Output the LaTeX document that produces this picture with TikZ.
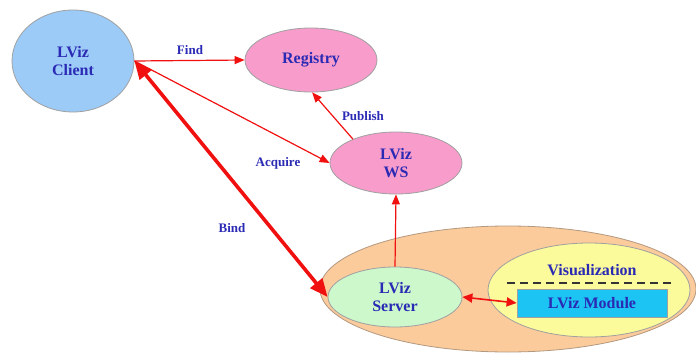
\documentclass[tikz,border=0pt]{standalone}
\usepackage{fontspec}
\setmainfont{Liberation Serif}
\usetikzlibrary{shapes.geometric,arrows.meta}
\definecolor{txt}{HTML}{2A2AB4}
\definecolor{arrred}{HTML}{F01010}
\definecolor{clientfill}{HTML}{9CCBF8}
\definecolor{pinkfill}{HTML}{F89CCC}
\definecolor{orangefill}{HTML}{FBCB9C}
\definecolor{serverfill}{HTML}{CCF8CC}
\definecolor{vizfill}{HTML}{FBFB9C}
\definecolor{modfill}{HTML}{1CC4F4}
\definecolor{edge}{HTML}{A0A0A0}
\tikzset{
  big/.style={font=\fontsize{16}{18}\selectfont\bfseries, text=txt, align=center},
  lab/.style={font=\fontsize{13}{15}\selectfont\bfseries, text=txt},
  oval/.style={ellipse, draw=edge, line width=0.8pt, inner sep=0pt, big},
  thin/.style={draw=arrred, line width=1.2pt, -{Triangle[length=10pt,width=8pt]}},
  thick/.style={draw=arrred, line width=3.6pt, {Triangle[length=18pt,width=15pt]}-{Triangle[length=18pt,width=15pt]}}
}
\begin{document}
\begin{tikzpicture}[x=1pt,y=-1pt]
\useasboundingbox (0,0) rectangle (696,353);
\node[oval, fill=orangefill, draw=edge!80!orange, minimum width=376pt, minimum height=126pt] (host) at (508,289) {};
\node[oval, fill=clientfill, minimum width=122pt, minimum height=102pt] (client) at (73,61) {LViz\\Client};
\node[oval, fill=pinkfill, minimum width=132pt, minimum height=64pt] (registry) at (311,60) {Registry};
\node[oval, fill=pinkfill, minimum width=132pt, minimum height=62pt] (ws) at (396,163) {LViz\\WS};
\node[oval, fill=serverfill, minimum width=134pt, minimum height=60pt] (server) at (395,297) {LViz\\Server};
\node[oval, fill=vizfill, minimum width=202pt, minimum height=94pt] (viz) at (589,290) {};
\node[big] (viztitle) at (592,270) {Visualization};
\coordinate (dashL) at (507,283);
\coordinate (dashR) at (675,283);
\draw[line width=1.3pt, black!80, dash pattern=on 8pt off 5pt] (dashL) -- (dashR);
\node[draw=edge, line width=0.8pt, fill=modfill, minimum width=150pt, minimum height=28pt, inner sep=0pt, big] (module) at (592,303) {LViz Module};

\draw[thin] (client.east) -- (registry.west);
\draw[thin] (client.east) -- (ws.west);
\draw[thin] (ws.151) -- (registry.272);
\draw[thin] (server.north) -- (ws.south);
\draw[draw=arrred, line width=1.6pt, {Triangle[length=10pt,width=9pt]}-{Triangle[length=10pt,width=9pt]}] (server.east) -- (module.west);
\draw[thick] (client.east) -- (server.west);

\node[lab] (lfind) at (190,50) {Find};
\node[lab] (lacq) at (278,163) {Acquire};
\node[lab] (lbind) at (232,228) {Bind};
\node[lab] (lpub) at (363,116) {Publish};
\end{tikzpicture}
\end{document}
